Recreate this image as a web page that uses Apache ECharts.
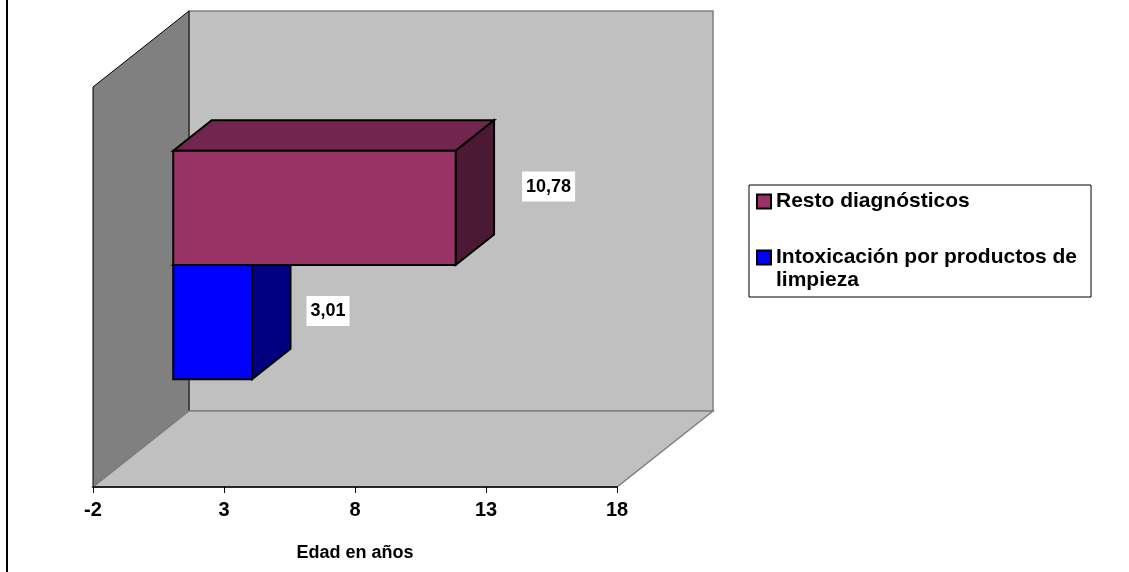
<!DOCTYPE html>
<html>
<head>
<meta charset="utf-8">
<script src="https://cdn.jsdelivr.net/npm/echarts@6/dist/echarts.min.js"></script>
<style>
  html, body { margin: 0; padding: 0; background: #ffffff; }
  #chart { width: 1129px; height: 572px; }
</style>
</head>
<body>
<div id="chart"></div>
<script>
// Data
const categories = [''];
const seriesNames = ['Resto diagnósticos', 'Intoxicación por productos de limpieza'];
const restoValues = [10.78];
const intoxValues = [3.01];
const xAxisMin = -2;
const xAxisMax = 18;
const xAxisStep = 5;
const xAxisTitle = 'Edad en años';

// Appearance
const FONT = '"Liberation Sans", Arial, sans-serif';
const DEPTH = [96, -76];          // projection of the full 3D depth, in px
const BAR_FRONT = 0.29;           // bar front face, fraction of the depth
const BAR_BACK = 0.69;            // bar back face, fraction of the depth
const GAP_RATIO = 1.5;            // gap between groups relative to bar height
const COLORS = {
  resto: { front: '#993366', top: '#72264D', side: '#4B1933' },
  intox: { front: '#0000FF', top: '#0000BF', side: '#000080' }
};
// value label offset from the bar's back-right edge
const LABEL_SHIFT = {
  resto: [28, -6],
  intox: [16, 4]
};

function fmt(v) { return String(v).replace('.', ','); }

// Back wall, side wall and floor of the 3D plot box
function renderWalls(params, api) {
  const cs = params.coordSys;
  const x = cs.x, y = cs.y, w = cs.width, h = cs.height;
  const dx = DEPTH[0], dy = DEPTH[1];
  return {
    type: 'group',
    children: [
      { type: 'rect', shape: { x: x + dx, y: y + dy, width: w, height: h },
        style: { fill: '#C0C0C0', stroke: '#808080', lineWidth: 1.5 } },
      { type: 'polygon', shape: { points: [[x, y], [x + dx, y + dy], [x + dx, y + h + dy], [x, y + h]] },
        style: { fill: '#808080', stroke: '#000000', lineWidth: 1 } },
      { type: 'polygon', shape: { points: [[x, y + h], [x + dx, y + h + dy], [x + w + dx, y + h + dy], [x + w, y + h]] },
        style: { fill: '#C0C0C0', stroke: '#808080', lineWidth: 1.5 } }
    ]
  };
}

// 3D bar: slot 0 is the upper bar of the group, slot 1 the lower one
function barRenderer(slot, pal, shift) {
  return function (params, api) {
    const val = api.value(0);
    const cat = api.value(1);
    const origin = api.coord([0, cat]);
    const end = api.coord([val, cat]);
    const band = api.size([0, 1])[1];
    const barH = band / (2 + GAP_RATIO);
    const fdx = DEPTH[0] * BAR_FRONT, fdy = DEPTH[1] * BAR_FRONT;
    const ddx = DEPTH[0] * (BAR_BACK - BAR_FRONT), ddy = DEPTH[1] * (BAR_BACK - BAR_FRONT);
    const xa = origin[0] + fdx;
    const xb = end[0] + fdx;
    const yt = origin[1] - barH + slot * barH + fdy;
    const yb = yt + barH;
    const line = { stroke: '#000000', lineWidth: 2, lineJoin: 'miter' };
    return {
      type: 'group',
      children: [
        { type: 'polygon', shape: { points: [[xa, yt], [xa + ddx, yt + ddy], [xb + ddx, yt + ddy], [xb, yt]] },
          style: Object.assign({ fill: pal.top }, line) },
        { type: 'polygon', shape: { points: [[xb, yt], [xb + ddx, yt + ddy], [xb + ddx, yb + ddy], [xb, yb]] },
          style: Object.assign({ fill: pal.side }, line) },
        { type: 'rect', shape: { x: xa, y: yt, width: xb - xa, height: barH },
          style: Object.assign({ fill: pal.front }, line) },
        { type: 'text', x: xb + ddx + shift[0], y: (yt + yb) / 2 + ddy / 2 + shift[1],
          style: { text: fmt(val), fill: '#000000', fontSize: 18, fontWeight: 'bold', fontFamily: FONT,
                   align: 'left', verticalAlign: 'middle', backgroundColor: '#ffffff', padding: [6, 4, 6, 4] } }
      ]
    };
  };
}

const chart = echarts.init(document.getElementById('chart'), null, { renderer: 'canvas' });
chart.setOption({
  animation: false,
  backgroundColor: '#ffffff',
  textStyle: { fontFamily: FONT },
  graphic: [
    { type: 'line', shape: { x1: 7, y1: 0, x2: 7, y2: 572 }, style: { stroke: '#000000', lineWidth: 2 } }
  ],
  grid: { left: 93, right: 512, top: 87, bottom: 85, containLabel: false },
  xAxis: {
    type: 'value', min: xAxisMin, max: xAxisMax, interval: xAxisStep, z: 10,
    axisLine: { show: true, onZero: false, lineStyle: { color: '#000000', width: 1.5 } },
    axisTick: { show: true, length: 6, lineStyle: { color: '#000000', width: 1 } },
    splitLine: { show: false },
    axisLabel: { fontSize: 20, fontWeight: 'bold', color: '#000000', margin: 13, fontFamily: FONT },
    name: xAxisTitle, nameLocation: 'middle', nameGap: 57,
    nameTextStyle: { fontSize: 18, fontWeight: 'bold', color: '#000000', fontFamily: FONT }
  },
  yAxis: { type: 'category', data: categories, show: false },
  legend: {
    orient: 'vertical', left: 749, top: 185,
    padding: [5, 14, 5, 7], itemGap: 10, itemWidth: 14, itemHeight: 14,
    borderColor: '#000000', borderWidth: 1, backgroundColor: '#ffffff',
    icon: 'rect',
    itemStyle: { borderColor: '#000000', borderWidth: 2 },
    textStyle: { fontSize: 21, fontWeight: 'bold', color: '#000000', lineHeight: 23, fontFamily: FONT },
    data: [seriesNames[0], seriesNames[1]],
    formatter: function (name) {
      return name === seriesNames[1] ? '\nIntoxicación por productos de\nlimpieza' : name;
    }
  },
  series: [
    { type: 'custom', name: 'walls', z: 1, silent: true, renderItem: renderWalls,
      data: [[xAxisMin, 0]], encode: { x: 0, y: 1 } },
    { type: 'custom', name: seriesNames[1], z: 2, renderItem: barRenderer(1, COLORS.intox, LABEL_SHIFT.intox),
      itemStyle: { color: COLORS.intox.front },
      data: intoxValues.map(function (v, i) { return [v, i]; }), encode: { x: 0, y: 1 } },
    { type: 'custom', name: seriesNames[0], z: 3, renderItem: barRenderer(0, COLORS.resto, LABEL_SHIFT.resto),
      itemStyle: { color: COLORS.resto.front },
      data: restoValues.map(function (v, i) { return [v, i]; }), encode: { x: 0, y: 1 } }
  ]
});
</script>
</body>
</html>
